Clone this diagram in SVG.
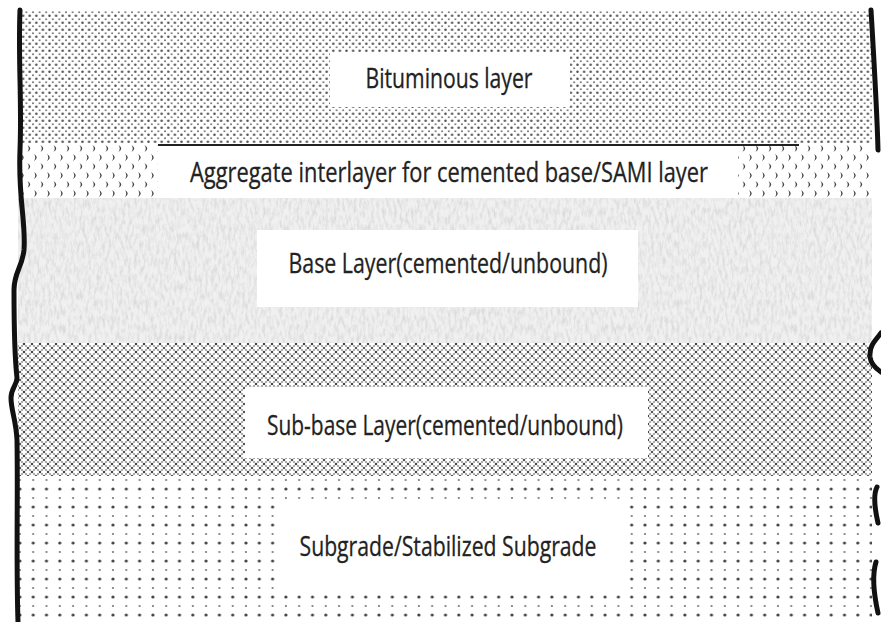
<svg xmlns="http://www.w3.org/2000/svg" width="881" height="622" viewBox="0 0 881 622">
<defs>
<style>
.lbl{font-family:"Open Sans","Noto Sans",sans-serif;font-size:28px;fill:#222;text-anchor:middle;stroke:#222;stroke-width:0.3}
.box{fill:#fff}
.edge{fill:none;stroke:#111;stroke-width:5;stroke-linecap:round}
</style>
<pattern id="pBit" width="6.6" height="7" patternUnits="userSpaceOnUse">
<circle cx="3.3" cy="1.8" r="1.25" fill="#555"/>
<circle cx="0" cy="5.3" r="1.0" fill="#777"/>
<circle cx="6.6" cy="5.3" r="1.0" fill="#777"/>
</pattern>
<pattern id="pInt" width="13" height="18" patternUnits="userSpaceOnUse">
<path d="M1.5,1 Q7,4.5 1.5,8 Q4,4.5 1.5,1 Z" fill="#444"/>
<path d="M8,10 Q13.5,13.5 8,17 Q10.5,13.5 8,10 Z" fill="#444"/>
</pattern>
<pattern id="pSub" width="8" height="8" patternUnits="userSpaceOnUse">
<circle cx="0" cy="0" r="1.25" fill="#444"/>
<circle cx="8" cy="0" r="1.25" fill="#444"/>
<circle cx="0" cy="8" r="1.25" fill="#444"/>
<circle cx="8" cy="8" r="1.25" fill="#444"/>
<circle cx="4" cy="4" r="1.25" fill="#555"/>
<circle cx="2" cy="2" r="0.95" fill="#888"/>
<circle cx="6" cy="2" r="0.95" fill="#888"/>
<circle cx="2" cy="6" r="0.95" fill="#888"/>
<circle cx="6" cy="6" r="0.95" fill="#888"/>
</pattern>
<pattern id="pGrade" width="13.3" height="18" patternUnits="userSpaceOnUse">
<circle cx="6.6" cy="3" r="1.6" fill="#444"/>
<circle cx="6.6" cy="12" r="1.1" fill="#777"/>
</pattern>
<filter id="noise" x="0" y="0" width="100%" height="100%">
<feTurbulence type="fractalNoise" baseFrequency="0.35 0.12" numOctaves="3" seed="7" result="t"/>
<feColorMatrix in="t" type="matrix" values="0 0 0 0 0.6  0 0 0 0 0.6  0 0 0 0 0.6  2.6 0 0 0 -1.05" result="c"/>
<feComposite in="c" in2="SourceGraphic" operator="in"/>
</filter>
</defs>
<rect width="881" height="622" fill="#fff"/>

<g id="bituminous-layer">
<rect x="18" y="10" width="854" height="134" fill="url(#pBit)"/>
<rect class="box" x="330" y="52" width="240" height="55"/>
<text class="lbl" x="449" y="88" textLength="167" lengthAdjust="spacingAndGlyphs">Bituminous layer</text>
</g>

<g id="aggregate-interlayer">
<rect x="18" y="144" width="854" height="54" fill="url(#pInt)"/>
<rect class="box" x="158" y="145" width="580" height="53"/>
<line x1="158" y1="145" x2="799" y2="145" stroke="#222" stroke-width="2.2"/>
<text class="lbl" x="449" y="182" textLength="518" lengthAdjust="spacingAndGlyphs">Aggregate interlayer for cemented base/SAMI layer</text>
</g>

<g id="base-layer">
<rect x="18" y="198" width="854" height="145" fill="#f0f0f0"/>
<rect x="18" y="198" width="854" height="145" fill="#000" filter="url(#noise)" opacity="0.55"/>
<rect class="box" x="257" y="230" width="381" height="77"/>
<text class="lbl" x="448" y="273" textLength="319" lengthAdjust="spacingAndGlyphs">Base Layer(cemented/unbound)</text>
</g>

<g id="sub-base-layer">
<rect x="18" y="343" width="854" height="133" fill="url(#pSub)"/>
<rect class="box" x="245" y="387" width="403" height="71"/>
<text class="lbl" x="445" y="435" textLength="356" lengthAdjust="spacingAndGlyphs">Sub-base Layer(cemented/unbound)</text>
</g>

<g id="subgrade">
<rect x="18" y="476" width="854" height="146" fill="url(#pGrade)"/>
<rect class="box" x="275" y="502" width="347" height="88"/>
<text class="lbl" x="448" y="556" textLength="297" lengthAdjust="spacingAndGlyphs">Subgrade/Stabilized Subgrade</text>
</g>

<g id="edges">
<path class="edge" d="M20,10 C18,60 22,100 20,150 C18,200 26,220 24,250 C22,268 14,272 14,290 C14,330 15,360 17,378 C17,385 11,388 11,398 C11,410 16,420 17,440 C18,500 16,560 18,622"/>
<path class="edge" d="M871,10 C874,60 877,110 878,150"/>
<path class="edge" d="M881,333 C876,340 869,345 870,357 C871,365 878,370 881,372"/>
<path class="edge" d="M877,487 C873,495 875,510 878,523"/>
<path class="edge" d="M876,562 C872,575 874,595 878,613"/>
</g>
</svg>
